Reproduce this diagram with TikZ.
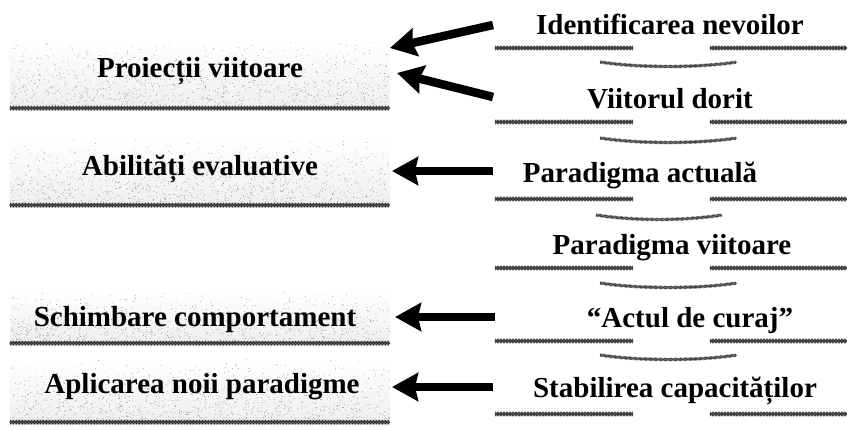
\documentclass[tikz,border=0pt]{standalone}
\usepackage{fontspec}
\setmainfont{Liberation Serif}
\usetikzlibrary{arrows.meta,decorations.pathmorphing}
\newcommand{\boxdots}[5]{%
  \foreach \k in {1,...,#5}{%
    \pgfmathsetmacro\sx{#1+#3*rnd}%
    \pgfmathsetmacro\sy{#2+#4*sqrt(rnd)}%
    \fill[black!50] (\sx,\sy) circle[radius=0.4pt];}}
\begin{document}
\begin{tikzpicture}[x=1pt,y=-1pt,
  lbl/.style={font=\fontsize{29}{32}\selectfont\bfseries, anchor=base, inner sep=0pt},
  box/.style={draw=none, rectangle, inner sep=0pt, top color=white, bottom color=gray!13},
  chainA/.style={decorate, decoration={zigzag, segment length=3pt, amplitude=1.8pt}, line width=0.6pt, black!85},
  chainB/.style={decorate, decoration={zigzag, segment length=3pt, amplitude=1.8pt, mirror}, line width=0.6pt, black!85},
  wave/.style={decorate, decoration={zigzag, segment length=2.5pt, amplitude=1.4pt}, line width=0.45pt, black!80},
  bigarrow/.style={line width=8.5pt, -{Stealth[length=26pt,width=28pt,inset=3pt]}},
]
\useasboundingbox (0,0) rectangle (847,429);
\pgfmathsetseed{11}

% left boxes
\node[box, minimum width=380pt, minimum height=68pt] (b1) at (200,74) {};
\node[box, minimum width=380pt, minimum height=67pt] (b2) at (200,171.5) {};
\node[box, minimum width=380pt, minimum height=53pt] (b3) at (200,316.5) {};
\node[box, minimum width=380pt, minimum height=64pt] (b4) at (200,390) {};
\boxdots{10}{40}{380}{68}{1100}
\boxdots{10}{138}{380}{67}{1100}
\boxdots{10}{290}{380}{53}{900}
\boxdots{10}{358}{380}{64}{1050}
\foreach \b in {b1,b2,b3,b4}{
  \draw[chainA] (\b.south west) -- (\b.south east);
  \draw[chainB] (\b.south west) -- (\b.south east);
}
\node[lbl] (t1) at (200,77) {Proiecții viitoare};
\node[lbl] (t2) at (200,175) {Abilități evaluative};
\node[lbl] (t3) at (195,326) {Schimbare comportament};
\node[lbl] (t4) at (202,393) {Aplicarea noii paradigme};

% right labels
\node[lbl] (r1) at (670,34) {Identificarea nevoilor};
\node[lbl] (r2) at (670,108) {Viitorul dorit};
\node[lbl] (r3) at (640,182) {Paradigma actuală};
\node[lbl] (r4) at (672,254) {Paradigma viitoare};
\node[lbl] (r5) at (690,327) {“Actul de curaj”};
\node[lbl] (r6) at (675,397) {Stabilirea capacităților};

% separator lines under right labels
\foreach \yy in {48,122,199,268,341,414}{
  \draw[chainA] (495,\yy) -- (633,\yy);
  \draw[chainB] (495,\yy) -- (633,\yy);
  \draw[chainA] (710,\yy) -- (847,\yy);
  \draw[chainB] (710,\yy) -- (847,\yy);
}
% small wave ornaments
\foreach \yy/\xa/\xb in {62/600/737,138/600/737,215/596/722,283/600/737,355/600/737}{
  \draw[wave] (\xa,\yy) .. controls +(40,6) and +(-40,6) .. (\xb,\yy);
  \draw[wave, decoration={mirror}] (\xa,\yy) .. controls +(40,6) and +(-40,6) .. (\xb,\yy);
}

% arrows
\coordinate (a1s) at (493,25);  \coordinate (a1e) at (390,48);
\coordinate (a2s) at (493,97);  \coordinate (a2e) at (397,73);
\coordinate (a3s) at (493,171); \coordinate (a3e) at (392,171);
\coordinate (a4s) at (495,317); \coordinate (a4e) at (395,317);
\coordinate (a5s) at (493,387); \coordinate (a5e) at (392,387);
\foreach \i in {1,...,5}{
  \draw[bigarrow] (a\i s) -- (a\i e);
}
\end{tikzpicture}
\end{document}
